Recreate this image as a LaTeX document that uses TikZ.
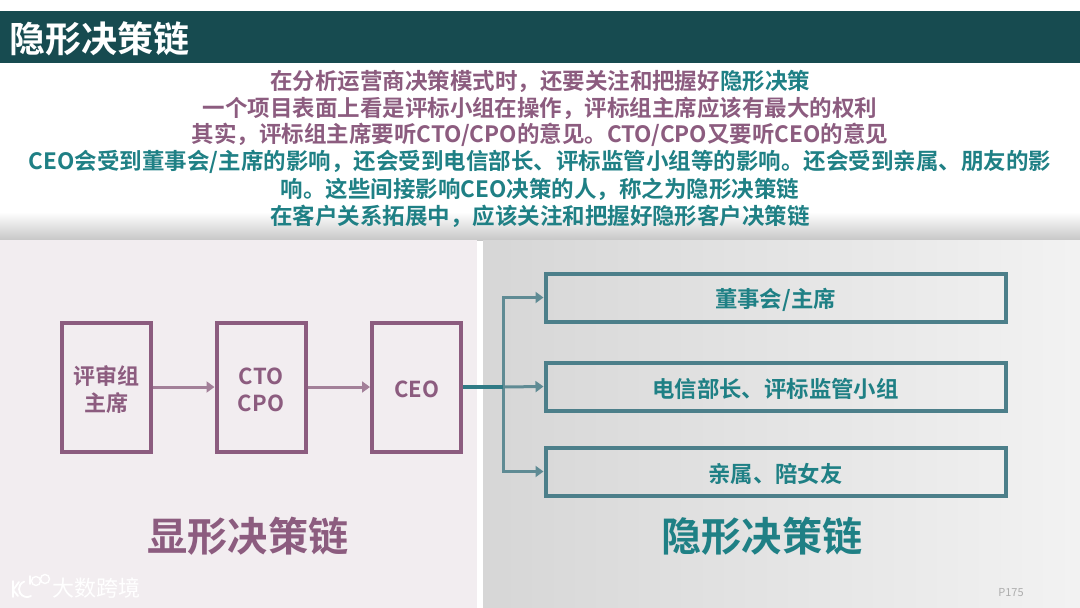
\documentclass[tikz,border=0pt]{standalone}
\usepackage{fontspec}
\setmainfont{Noto Sans CJK SC}[BoldFont={Noto Sans CJK SC Bold}]
\usetikzlibrary{arrows.meta,positioning}
\definecolor{headc}{HTML}{174B50}
\definecolor{plum}{HTML}{8C5C7F}
\definecolor{tealt}{HTML}{1F8085}
\definecolor{tealb}{HTML}{4C7F8A}
\definecolor{tealdark}{HTML}{2F7A85}
\definecolor{plumarrow}{HTML}{A38099}
\definecolor{tealarrow}{HTML}{5F8B94}
\definecolor{leftbg}{HTML}{F2EDF0}
\newcommand\dropby[2]{\raisebox{-#1}[\height][\depth]{#2}}
\tikzset{
  x=1pt,y=-1pt,
  txtline/.style={anchor=center,inner sep=0pt,font=\fontsize{22.5}{26}\selectfont\bfseries},
  plumbox/.style={draw=plum,line width=4pt,anchor=center,inner sep=0pt,align=center,text=plum,font=\fontsize{22}{27}\selectfont\bfseries,fill=none},
  tealbox/.style={draw=tealb,line width=4pt,anchor=center,inner sep=0pt,align=center,text=tealt,minimum width=460pt,minimum height=48pt,font=\fontsize{22.4}{26}\selectfont\bfseries},
  plumarr/.style={draw=plumarrow,line width=3pt,-{Triangle[length=8pt,width=11pt]}},
  tealarr/.style={draw=tealarrow,line width=3pt,-{Triangle[length=8pt,width=11pt]}},
  bigtitle/.style={anchor=center,inner sep=0pt,font=\fontsize{40.2}{44}\selectfont\bfseries}
}
\begin{document}
\begin{tikzpicture}
\useasboundingbox (0,0) rectangle (1080,608);
\fill[white] (0,0) rectangle (1080,608);
% backgrounds
\fill[headc] (0,11) rectangle (1080,63);
\shade[top color=white,bottom color=black!22] (0,212) rectangle (1080,240);
\fill[leftbg] (0,240) rectangle (477,608);
\shade[shading angle=25,left color=black!16,right color=black!5] (483,240) rectangle (1080,608);
% header
\node[anchor=west,inner sep=0pt,text=white,font=\fontsize{36}{40}\selectfont\bfseries] (title) at (9,39) {隐形决策链};
% body text
\node[txtline,text=plum] (l1) at (540,81) {在分析运营商决策模式时，还要关注和把握好\textcolor{tealt}{隐形决策}};
\node[txtline,text=plum] (l2) at (540,108) {一个项目表面上看是评标小组在操作，评标组主席应该有最大的权利};
\node[txtline,text=plum] (l3) at (540,135) {其实，评标组主席要听CTO/CPO的意见。CTO/CPO又要听CEO的意见};
\node[txtline,text=tealt] (l4) at (540,162) {CEO会受到董事会/主席的影响，还会受到电信部长、评标监管小组等的影响。还会受到亲属、朋友的影};
\node[txtline,text=tealt] (l5) at (540,189) {响。这些间接影响CEO决策的人，称之为隐形决策链};
\node[txtline,text=tealt] (l6) at (540,216) {在客户关系拓展中，应该关注和把握好隐形客户决策链};
% left boxes
\node[plumbox,minimum width=89pt,minimum height=129pt] (pingshen) at (106,387) {\dropby{3pt}{\parbox{80pt}{\centering 评审组\\主席}}};
\node[plumbox,minimum width=89pt,minimum height=129pt] (cto) at (261,387) {\dropby{3pt}{\parbox{80pt}{\centering CTO\\CPO}}};
\node[plumbox,minimum width=89pt,minimum height=129pt] (ceo) at (416.5,387) {\dropby{2pt}{CEO}};
% right boxes
\node[tealbox] (dongshi) at (775.5,297.5) {\dropby{2pt}{董事会/主席}};
\node[tealbox] (dianxin) at (775.5,386.5) {\dropby{2pt}{电信部长、评标监管小组}};
\node[tealbox] (qinshu) at (775.5,471.5) {\dropby{2pt}{亲属、陪女友}};
% connectors
\draw[plumarr] (pingshen.east) -- (cto.west);
\draw[plumarr] (cto.east) -- (ceo.west);
\coordinate (bus) at (503,387);
\draw[tealarr] (bus) |- (dongshi.west);
\draw[tealarr] (bus) -- (dianxin.west);
\draw[tealarr] (bus) |- (qinshu.west);
\draw[draw=tealdark,line width=3.2pt] (ceo.east) -- (bus);
% panel titles
\node[bigtitle,text=plum] (tl) at (248,536) {显形决策链};
\node[bigtitle,text=tealt] (tr) at (762,536) {隐形决策链};
% watermark
\begin{scope}[draw=white,line width=1.8pt,line cap=round]
\draw (13,581) -- (13,597);
\draw (13,590) -- (19,582);
\draw (13,590) -- (18,596);
\draw (31,596) arc[start angle=-60,end angle=-250,radius=8pt];
\draw (30,576) -- (30,584);
\end{scope}
\begin{scope}[draw=white,line width=1.4pt]
\draw (36,581) circle[radius=4.5pt];
\draw (45,579) circle[radius=4.5pt];
\end{scope}
\node[anchor=west,inner sep=0pt,text=white,font=\fontsize{22}{24}\selectfont] (wm) at (52,588) {大数跨境};
\node[anchor=center,inner sep=0pt,text=black!32,font=\fontsize{11}{12}\selectfont] (page) at (1011,593) {P175};
\end{tikzpicture}
\end{document}
